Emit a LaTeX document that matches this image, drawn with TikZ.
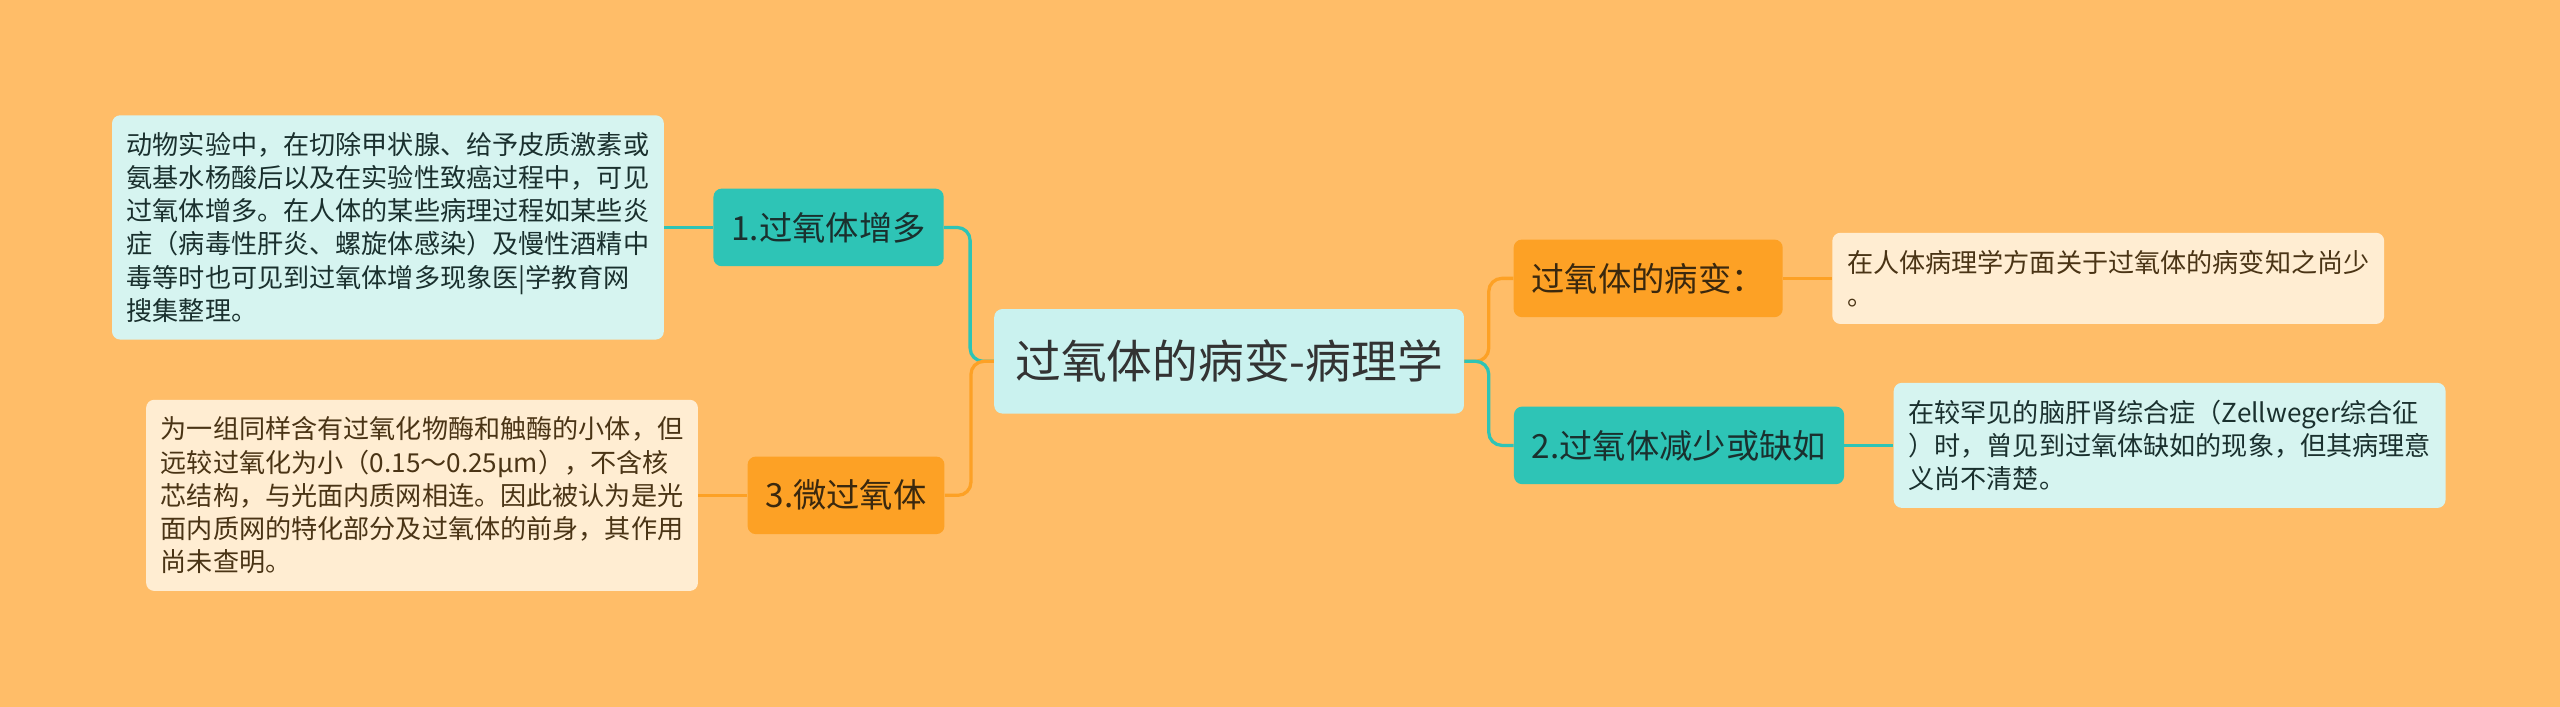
\documentclass[tikz,border=0pt]{standalone}
\usepackage{fontspec}
\setmainfont{Noto Sans CJK SC}
\usetikzlibrary{positioning}

\definecolor{bgorange}{RGB}{255,189,104}
\definecolor{tealfill}{RGB}{46,196,182}
\definecolor{orangefill}{RGB}{253,161,37}
\definecolor{rootfill}{RGB}{202,242,239}
\definecolor{cyannote}{RGB}{214,244,240}
\definecolor{creamnote}{RGB}{255,237,210}
\definecolor{tealink}{RGB}{26,48,46}
\definecolor{orangeink}{RGB}{58,40,14}
\definecolor{creamink}{RGB}{74,52,21}
\definecolor{rootink}{RGB}{51,51,51}

\begin{document}
\begin{tikzpicture}[x=1pt,y=-1pt,node distance=30pt,
  topic/.style={rounded corners=5pt,inner xsep=11pt,minimum height=47.5pt,
    font=\fontsize{20.4}{24}\selectfont},
  tealtopic/.style={topic,fill=tealfill,text=tealink},
  orangetopic/.style={topic,fill=orangefill,text=orangeink},
  note/.style={rounded corners=5pt,text width=320pt,inner xsep=9pt,inner ysep=10.5pt,
    align=left,font=\fontsize{16}{20.3}\selectfont},
  cyannotebox/.style={note,fill=cyannote,text=tealink},
  creamnotebox/.style={note,fill=creamnote,text=creamink},
  tealline/.style={draw=tealfill,line width=2pt},
  orangeline/.style={draw=orangefill,line width=2pt}]

  \fill[bgorange] (0,0) rectangle (1568,433);
  \useasboundingbox (0,0) rectangle (1568,433);

  \node[rounded corners=5pt,fill=rootfill,text=rootink,inner xsep=13pt,minimum height=64pt,
    font=\fontsize{28}{32}\selectfont] (root) at (752.8,221.3) {过氧体的病变-病理学};

  \node[tealtopic]   (inc)    at (507.5,139.3)  {1.过氧体增多};
  \node[orangetopic] (micro)  at (518.2,303.4)  {3.微过氧体};
  \node[orangetopic] (lesion) at (1009.5,170.5) {过氧体的病变：};
  \node[tealtopic]   (lack)   at (1028.4,272.8) {2.过氧体减少或缺如};

  \node[cyannotebox]  (incnote)    [left=of inc]     {动物实验中，在切除甲状腺、给予皮质激素或\\氨基水杨酸后以及在实验性致癌过程中，可见\\过氧体增多。在人体的某些病理过程如某些炎\\症（病毒性肝炎、螺旋体感染）及慢性酒精中\\毒等时也可见到过氧体增多现象医|学教育网\\搜集整理。};
  \node[creamnotebox] (micronote)  [left=of micro]   {为一组同样含有过氧化物酶和触酶的小体，但\\远较过氧化为小（0.15～0.25μm），不含核\\芯结构，与光面内质网相连。因此被认为是光\\面内质网的特化部分及过氧体的前身，其作用\\尚未查明。};
  \node[creamnotebox] (lesionnote) [right=of lesion] {在人体病理学方面关于过氧体的病变知之尚少\\。};
  \node[cyannotebox]  (lacknote)   [right=of lack]   {在较罕见的脑肝肾综合症（Zellweger综合征\\）时，曾见到过氧体缺如的现象，但其病理意\\义尚不清楚。};

  % branches from the root
  \draw[tealline,rounded corners=8pt]   (inc.east)   -- ++(16,0) |- (root.west);
  \draw[orangeline,rounded corners=8pt] (micro.east) -- ++(16,0) |- (root.west);
  \draw[orangeline,rounded corners=8pt] (root.east)  -- ++(15,0) |- (lesion.west);
  \draw[tealline,rounded corners=8pt]   (root.east)  -- ++(15,0) |- (lack.west);

  % topics to notes
  \draw[tealline]   (inc.west)    -- (incnote.east);
  \draw[orangeline] (micro.west)  -- (micronote.east);
  \draw[orangeline] (lesion.east) -- (lesionnote.west);
  \draw[tealline]   (lack.east)   -- (lacknote.west);
\end{tikzpicture}
\end{document}
